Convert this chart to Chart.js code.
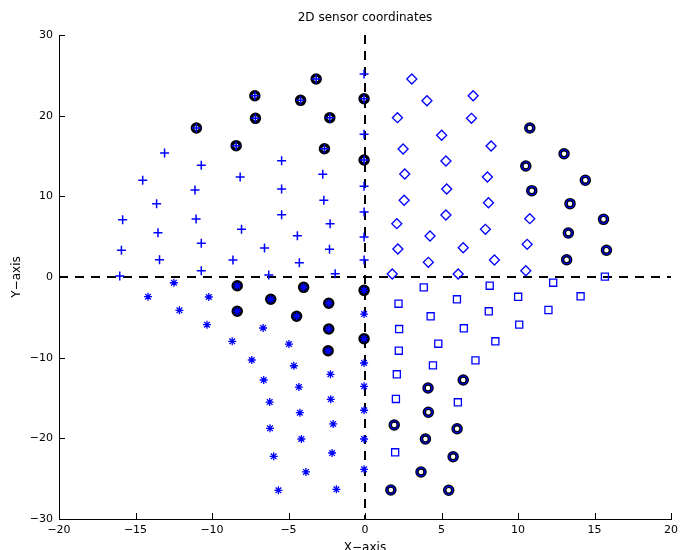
<!DOCTYPE html>
<html>
<head>
<meta charset="utf-8">
<title>2D sensor coordinates</title>
<script src="https://cdn.jsdelivr.net/npm/chart.js@4.4.0/dist/chart.umd.min.js"></script>
<style>
    html, body { margin: 0; padding: 0; background: #fff; }
    canvas { display: block; }
</style>
</head>
<body>
<canvas id="sensorChart" width="683" height="550"></canvas>
<script>
// Sensor coordinates [x, y], one array per quadrant marker
const plusPts = [
    [-13.10, 15.37], [-10.70, 13.85], [-14.53, 11.99], [-8.16, 12.40], [-11.11, 10.78],
    [-13.62, 9.09], [-15.84, 7.10], [-11.04, 7.19], [-13.53, 5.49], [-8.07, 5.91],
    [-15.92, 3.31], [-10.70, 4.18], [-6.57, 3.59], [-13.43, 2.14], [-8.63, 2.11],
    [-16.03, 0.12], [-10.70, 0.78], [-6.29, 0.25], [-1.95, 0.41], [-4.29, 1.77],
    [-0.06, 2.11], [-2.32, 3.43], [-4.42, 5.12], [-0.06, 4.96], [-2.28, 6.61],
    [-5.45, 7.72], [-0.06, 8.06], [-2.69, 9.51], [-5.45, 10.91], [-0.06, 11.24],
    [-2.76, 12.73], [-5.45, 14.42], [-0.06, 17.69], [-0.06, 25.16]
];
const ringUpperLeft = [
    [-7.20, 22.47], [-7.16, 19.67], [-11.02, 18.47], [-8.42, 16.28], [-3.19, 24.54],
    [-4.21, 21.90], [-0.06, 22.10], [-2.30, 19.75], [-2.65, 15.90], [-0.06, 14.50]
];
const diamondPts = [
    [3.06, 24.54], [4.05, 21.85], [7.07, 22.47], [2.12, 19.75], [6.96, 19.67],
    [5.01, 17.57], [8.24, 16.24], [2.49, 15.87], [5.29, 14.38], [2.60, 12.77],
    [8.00, 12.40], [5.34, 10.91], [2.56, 9.51], [8.07, 9.21], [5.29, 7.69],
    [2.08, 6.61], [4.25, 5.08], [7.87, 5.91], [2.15, 3.47], [6.42, 3.63],
    [4.14, 1.82], [8.46, 2.11], [1.78, 0.37], [6.09, 0.37], [10.77, 7.23],
    [10.60, 4.05], [10.51, 0.78]
];
const ringUpperRight = [
    [10.77, 18.47], [13.01, 15.28], [10.51, 13.76], [14.40, 11.99], [10.90, 10.70],
    [13.40, 9.09], [15.59, 7.15], [13.29, 5.45], [15.78, 3.31], [13.18, 2.14]
];
const starPts = [
    [-12.49, -0.71], [-14.18, -2.44], [-10.21, -2.48], [-12.13, -4.13], [-10.33, -5.91],
    [-6.66, -6.32], [-8.68, -7.97], [-7.40, -10.29], [-6.62, -12.77], [-4.97, -8.31],
    [-4.65, -11.00], [-4.32, -13.64], [-2.26, -12.06], [-6.23, -15.50], [-2.24, -15.16],
    [-4.26, -16.82], [-6.21, -18.76], [-2.08, -18.22], [-4.16, -20.08], [-5.97, -22.23],
    [-2.15, -21.82], [-3.86, -24.17], [-5.66, -26.44], [-1.87, -26.32], [-0.06, -4.59],
    [-0.06, -10.66], [-0.06, -13.55], [-0.06, -16.52], [-0.06, -20.08], [-0.06, -23.84]
];
const ringLowerLeft = [
    [-8.35, -1.08], [-8.35, -4.25], [-6.16, -2.76], [-4.01, -1.28], [-2.37, -3.26],
    [-4.47, -4.87], [-2.37, -6.45], [-2.41, -9.14], [-0.06, -1.65], [-0.06, -7.65]
];
const squarePts = [
    [3.84, -1.28], [8.15, -1.08], [10.01, -2.45], [2.19, -3.31], [6.01, -2.76],
    [8.09, -4.25], [4.29, -4.87], [10.08, -5.91], [2.23, -6.45], [6.46, -6.36],
    [4.79, -8.27], [8.52, -7.97], [2.21, -9.14], [7.22, -10.33], [4.44, -10.95],
    [2.08, -12.06], [6.07, -15.53], [2.02, -15.12], [1.97, -21.73], [12.30, -0.71],
    [15.68, 0.04], [14.09, -2.39], [11.99, -4.09]
];
const ringLowerRight = [
    [6.42, -12.77], [4.12, -13.76], [4.14, -16.77], [1.91, -18.35], [6.02, -18.81],
    [3.95, -20.08], [5.76, -22.28], [3.66, -24.17], [1.69, -26.40], [5.47, -26.44]
];

// Dashed reference lines through the origin
const hLine = [[-20, 0], [20, 0]];
const vLine = [[0, 30], [0, -30]];

const xTicks = [-20, -15, -10, -5, 0, 5, 10, 15, 20];
const yTicks = [-30, -20, -10, 0, 10, 20, 30];

const FONT = 'DejaVu Sans';
const BLUE = '#0000ff';

const pts = arr => arr.map(p => ({ x: p[0], y: p[1] }));
const minus = v => String(v).replace('-', '\u2212');

// MATLAB style tick marks pointing into the plot area
const innerTicks = {
    id: 'innerTicks',
    afterDraw(chart) {
        const { ctx, chartArea, scales: { x, y } } = chart;
        ctx.save();
        ctx.strokeStyle = '#000';
        ctx.lineWidth = 1;
        ctx.beginPath();
        x.ticks.forEach(t => {
            const px = Math.round(x.getPixelForValue(t.value)) + 0.5;
            ctx.moveTo(px, chartArea.bottom);
            ctx.lineTo(px, chartArea.bottom - 6);
        });
        y.ticks.forEach(t => {
            const py = Math.round(y.getPixelForValue(t.value)) + 0.5;
            ctx.moveTo(chartArea.left, py);
            ctx.lineTo(chartArea.left + 6, py);
        });
        ctx.stroke();
        ctx.restore();
    }
};

const ring = (data, fill) => ({
    data: pts(data),
    pointStyle: 'circle',
    pointRadius: 4,
    borderWidth: 3.5,
    borderColor: '#000',
    backgroundColor: fill,
    order: 5
});

const marker = (data, style, radius, width) => ({
    data: pts(data),
    pointStyle: style,
    pointRadius: radius,
    borderWidth: width,
    borderColor: BLUE,
    backgroundColor: 'rgba(0,0,0,0)',
    order: 1
});

const dashed = data => ({
    data: pts(data),
    showLine: true,
    pointRadius: 0,
    borderColor: '#000',
    borderWidth: 2,
    borderDash: [9, 7],
    order: 10
});

new Chart(document.getElementById('sensorChart'), {
    type: 'scatter',
    data: {
        datasets: [
            dashed(hLine),
            dashed(vLine),
            ring(ringUpperLeft, '#fff'),
            ring(ringUpperRight, '#fff'),
            ring(ringLowerLeft, '#1414e6'),
            ring(ringLowerRight, '#fff'),
            marker(plusPts.concat(ringUpperLeft), 'cross', 4.5, 1.5),
            marker(diamondPts, 'rectRot', 5, 1.3),
            marker(starPts.concat(ringLowerLeft), 'star', 4, 1.3),
            marker(squarePts, 'rect', 5, 1.3),
            marker(ringUpperRight.concat(ringLowerRight), 'circle', 4, 1.2)
        ]
    },
    options: {
        responsive: false,
        animation: false,
        events: [],
        layout: { padding: { top: 0, left: 0, right: 9, bottom: 0 } },
        plugins: {
            legend: { display: false },
            tooltip: { enabled: false },
            title: {
                display: true,
                fullSize: false,
                text: '2D sensor coordinates',
                color: '#000',
                font: { family: FONT, size: 12, weight: 'normal' },
                padding: { top: 11, bottom: 9.6 }
            }
        },
        scales: {
            x: {
                type: 'linear',
                min: -20,
                max: 20,
                afterBuildTicks: s => { s.ticks = xTicks.map(v => ({ value: v })); },
                afterFit: s => { s.height = 31; },
                grid: { display: false, drawTicks: false },
                border: { display: true, color: '#000', width: 1 },
                ticks: {
                    color: '#000',
                    padding: 5,
                    maxRotation: 0,
                    font: { family: FONT, size: 11 },
                    callback: v => minus(v)
                },
                title: {
                    display: true,
                    text: 'X\u2212axis',
                    color: '#000',
                    font: { family: FONT, size: 12 },
                    padding: { top: 0, bottom: -5 }
                }
            },
            y: {
                type: 'linear',
                min: -30,
                max: 30,
                afterBuildTicks: s => { s.ticks = yTicks.map(v => ({ value: v })); },
                afterFit: s => { s.width = 59; },
                grid: { display: false, drawTicks: false },
                border: { display: true, color: '#000', width: 1 },
                ticks: {
                    color: '#000',
                    padding: 6,
                    font: { family: FONT, size: 11 },
                    callback: v => minus(v)
                },
                title: {
                    display: true,
                    text: 'Y\u2212axis',
                    color: '#000',
                    font: { family: FONT, size: 12 },
                    padding: { top: 10, bottom: 0 }
                }
            }
        }
    },
    plugins: [innerTicks]
});
</script>
</body>
</html>
